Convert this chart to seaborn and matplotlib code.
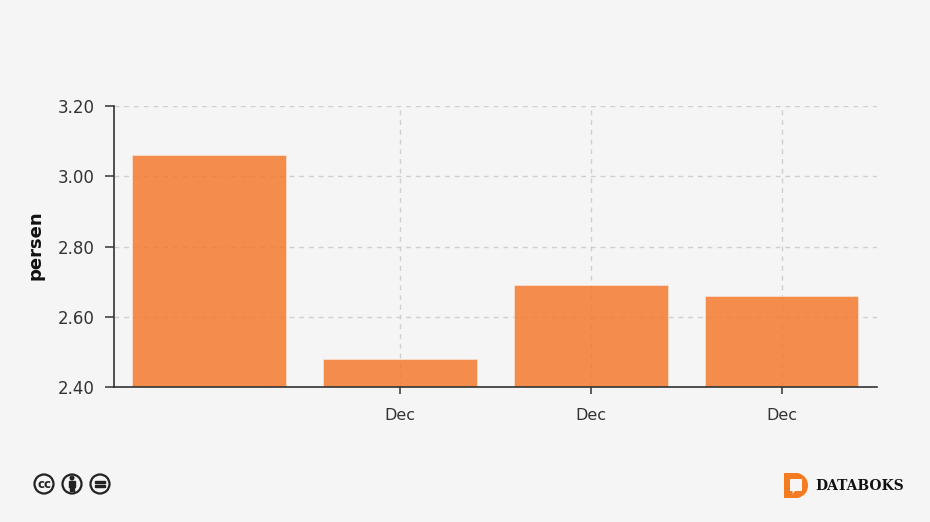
import matplotlib
matplotlib.use("Agg")
import matplotlib.pyplot as plt
from matplotlib.patches import Circle, PathPatch, Rectangle
from matplotlib.path import Path
import pandas as pd
import seaborn as sns

PERIODS = [0, 1, 2, 3]
TICK_LABELS = ["", "Dec", "Dec", "Dec"]
VALUES = [3.06, 2.48, 2.69, 2.66]
Y_TICKS = [2.40, 2.60, 2.80, 3.00, 3.20]

BG = "#f5f5f5"
DARK = "#333333"
ORANGE = "#f47a2e"
GRID = "#cfcfcf"

sns.set_theme(style="white")
plt.rcParams["font.family"] = ["DejaVu Sans"]

df = pd.DataFrame({"period": PERIODS, "value": VALUES})

W, H = 930, 522
fig = plt.figure(figsize=(W / 100, H / 100), dpi=100, facecolor=BG)
ax = fig.add_axes([113.8 / W, (H - 386.8) / H, (877.0 - 113.8) / W, 280.6 / H], facecolor=BG)

# Bars sit above the grid, the grid shows faintly through them
ax.set_axisbelow(True)
sns.barplot(
    data=df, x="period", y="value", ax=ax, color=ORANGE, saturation=1,
    alpha=0.85, width=0.805, edgecolor="#fbe3d3", linewidth=0.6,
)
ax.set_ylim(2.40, 3.20)
ax.set_xlim(-0.5, 3.5)
ax.set_yticks(Y_TICKS)
ax.set_yticklabels([f"{v:.2f}" for v in Y_TICKS], fontsize=12, color=DARK)

# First category has no label, tick or vertical grid line
ax.set_xticks(PERIODS[1:])
ax.set_xticklabels(TICK_LABELS[1:], fontsize=11.5, color=DARK)
ax.set_xlabel("")
ax.set_ylabel("persen", fontsize=13, fontweight="bold", color="#111111")
ax.yaxis.set_label_coords(-69 / 763.2, 0.505)

ax.grid(True, axis="both", color=GRID, linestyle=(0, (3.5, 3.5)), linewidth=1)
ax.tick_params(axis="y", length=6.5, width=1.1, color=DARK, pad=7.5, left=True)
ax.tick_params(axis="x", length=5, width=1.1, color=DARK, pad=10.5, bottom=True)
sns.despine(ax=ax)
for side in ["left", "bottom"]:
    ax.spines[side].set_color(DARK)
    ax.spines[side].set_linewidth(1.2)

# ######################### Footer icons (pixel coordinates) #########################
ov = fig.add_axes([0, 0, 1, 1], facecolor="none")
ov.set_xlim(0, W)
ov.set_ylim(H, 0)
ov.axis("off")

for cx in [44, 72, 100]:
    ov.add_patch(Circle((cx, 484), 9.5, facecolor=BG, edgecolor="#222222", linewidth=1.6))
ov.text(44, 484.3, "cc", fontsize=8.5, fontweight="bold", color="#222222", ha="center", va="center")
ov.add_patch(Circle((72, 478), 1.8, color="#222222"))
ov.add_patch(Rectangle((69.2, 481), 5.6, 5.5, color="#222222"))
ov.add_patch(Rectangle((70.4, 486), 3.2, 5, color="#222222"))
ov.add_patch(Rectangle((95, 480.6), 10, 2.2, color="#222222"))
ov.add_patch(Rectangle((95, 485.2), 10, 2.2, color="#222222"))

logo = Path(
    [(784, 473), (798, 473), (808, 476), (808, 485.5), (808, 495), (798, 498), (784, 498), (784, 473)],
    [Path.MOVETO, Path.LINETO, Path.CURVE3, Path.CURVE3, Path.CURVE3, Path.CURVE3, Path.LINETO, Path.CLOSEPOLY],
)
ov.add_patch(PathPatch(logo, facecolor="#f47b20", edgecolor="none"))
hole = Path(
    [(790, 479), (802, 479), (802, 491), (795, 491), (792.5, 494), (792.5, 491), (790, 491), (790, 479)],
    [Path.MOVETO, Path.LINETO, Path.LINETO, Path.LINETO, Path.LINETO, Path.LINETO, Path.LINETO, Path.CLOSEPOLY],
)
ov.add_patch(PathPatch(hole, facecolor=BG, edgecolor="none"))
ov.text(815, 486, "DATABOKS", fontsize=10, fontweight="bold", family="DejaVu Serif",
        color="#111111", ha="left", va="center")

fig.savefig("out.png", dpi=100, facecolor=BG)
